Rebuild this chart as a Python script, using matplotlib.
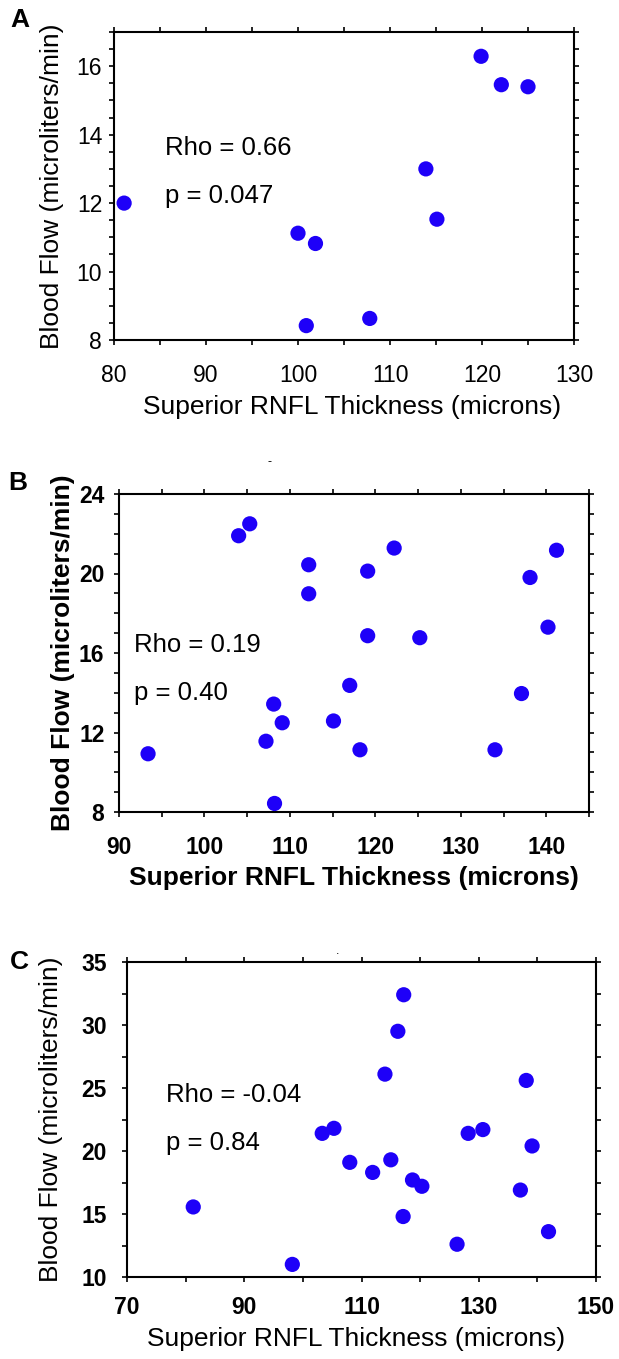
import matplotlib
matplotlib.use("Agg")
import matplotlib.pyplot as plt
import numpy as np
from matplotlib.ticker import FixedLocator

plt.rcParams['font.family'] = ['Liberation Sans', 'DejaVu Sans']

# ---------------- data ----------------
a_x = [81.1, 100.0, 101.9, 100.9, 107.8, 113.9, 115.1, 119.9, 122.1, 125.0]
a_y = [12.0, 11.12, 10.82, 8.42, 8.63, 13.0, 11.53, 16.29, 15.46, 15.4]

b_x = [93.4, 104.0, 105.3, 112.2, 112.2, 119.1, 122.2, 119.1, 125.2, 117.0,
       108.1, 109.1, 107.2, 115.1, 118.2, 108.2, 134.0, 137.1, 138.1, 140.2, 141.2]
b_y = [10.93, 21.9, 22.5, 20.44, 18.98, 20.12, 21.28, 16.87, 16.77, 14.37,
       13.43, 12.49, 11.56, 12.58, 11.13, 8.43, 11.13, 13.96, 19.8, 17.3, 21.17]

c_x = [81.3, 98.2, 103.3, 105.3, 108.0, 111.9, 114.0, 115.0, 116.2, 117.2,
       118.7, 120.3, 117.1, 126.3, 128.2, 130.7, 137.1, 138.1, 139.1, 141.9]
c_y = [15.56, 11.0, 21.4, 21.8, 19.1, 18.3, 26.1, 19.3, 29.5, 32.4,
       17.7, 17.2, 14.8, 12.6, 21.4, 21.7, 16.9, 25.6, 20.4, 13.6]

a_xticks = [80, 90, 100, 110, 120, 130]
a_yticks = [8, 10, 12, 14, 16]
b_xticks = [90, 100, 110, 120, 130, 140]
b_yticks = [8, 12, 16, 20, 24]
c_xticks = [70, 90, 110, 130, 150]
c_yticks = [10, 15, 20, 25, 30, 35]

panel_letters = ["A", "B", "C"]
stats_rho = ["Rho = 0.66", "Rho = 0.19", "Rho = -0.04"]
stats_p = ["p = 0.047", "p = 0.40", "p = 0.84"]
xlabel = "Superior RNFL Thickness (microns)"
ylabel = "Blood Flow (microliters/min)"

W, H = 619, 1359
fig = plt.figure(figsize=(W / 100, H / 100), dpi=100)
fig.patch.set_facecolor('white')

def px_axes(l, t, r, b):
    return fig.add_axes([l / W, 1 - b / H, (r - l) / W, (b - t) / H])

blue = '#1e00f8'

panels = [
    dict(box=(114, 32, 574, 340), x=a_x, y=a_y, xlim=(80, 130), ylim=(8, 17),
         xt=a_xticks, yt=a_yticks, xmin=5, ymin=0.5, weight='normal',
         tweight='normal', xpad=14, ypad=5,
         ylc=-0.109, xlc=(0.517, -0.18), txt=(0.111, 0.601, 0.445),
         letter=(20, 20)),
    dict(box=(119, 494, 589, 812), x=b_x, y=b_y, xlim=(90, 145), ylim=(8, 24),
         xt=b_xticks, yt=b_yticks, xmin=5, ymin=1, weight='bold',
         tweight='bold', xpad=14, ypad=7,
         ylc=-0.094, xlc=(0.5, -0.17), txt=(0.032, 0.503, 0.352),
         letter=(18, 483)),
    dict(box=(127, 962, 596, 1277), x=c_x, y=c_y, xlim=(70, 150), ylim=(10, 35),
         xt=c_xticks, yt=c_yticks, xmin=10, ymin=2.5, weight='normal',
         tweight='bold', xpad=10, ypad=11,
         ylc=-0.136, xlc=(0.488, -0.16), txt=(0.083, 0.556, 0.403),
         letter=(19, 962)),
]

for i, p in enumerate(panels):
    ax = px_axes(*p['box'])
    ax.scatter(p['x'], p['y'], s=120, color=blue, edgecolors='none', zorder=3,
               clip_on=False)
    ax.set_xlim(*p['xlim'])
    ax.set_ylim(*p['ylim'])
    x0, x1 = p['xlim']
    y0, y1 = p['ylim']
    ax.xaxis.set_major_locator(FixedLocator(p['xt']))
    ax.xaxis.set_minor_locator(FixedLocator(np.arange(x0, x1 + 1e-9, p['xmin'])))
    ax.yaxis.set_major_locator(FixedLocator(p['yt']))
    ax.yaxis.set_minor_locator(FixedLocator(np.arange(y0, y1 + 1e-9, p['ymin'])))
    for s in ax.spines.values():
        s.set_linewidth(1.5)
        s.set_color('black')
    ax.tick_params(which='both', direction='out', top=True, right=True,
                   length=3.5, width=1.2, colors='black')
    ax.tick_params(axis='x', which='major', pad=p['xpad'], labelsize=16.5)
    ax.tick_params(axis='y', which='major', pad=p['ypad'], labelsize=16.5)
    for lab in ax.get_xticklabels() + ax.get_yticklabels():
        lab.set_fontweight(p['tweight'])
    ax.set_xlabel(xlabel, fontsize=19, fontweight=p['weight'])
    ax.set_ylabel(ylabel, fontsize=19, fontweight=p['weight'])
    ax.yaxis.set_label_coords(p['ylc'], 0.5)
    ax.xaxis.set_label_coords(*p['xlc'])
    tx, ty1, ty2 = p['txt']
    ax.text(tx, ty1, stats_rho[i], transform=ax.transAxes, fontsize=18.5,
            va='baseline', ha='left')
    ax.text(tx, ty2, stats_p[i], transform=ax.transAxes, fontsize=18.5,
            va='baseline', ha='left')
    lx, ly = p['letter']
    fig.text(lx / W, 1 - ly / H, panel_letters[i], fontsize=19,
             fontweight='bold', ha='center', va='center')

# small stray marks present in the original figure
fig.text(270 / W, 1 - 462 / H, "-", fontsize=9, ha='center', va='center')
fig.text(338 / W, 1 - 951 / H, ".", fontsize=9, ha='center', va='center')

fig.savefig("out.png", dpi=100, facecolor='white')
